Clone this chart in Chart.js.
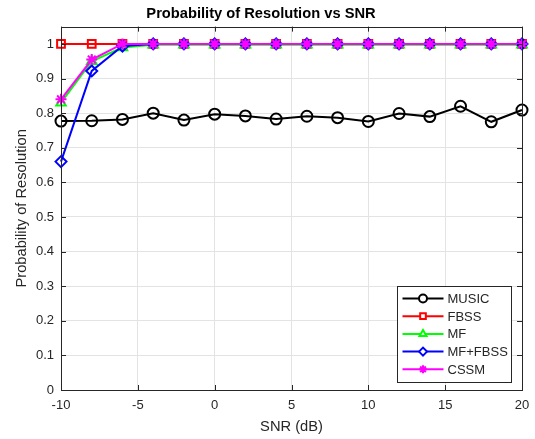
<!DOCTYPE html>
<html>
<head>
<meta charset="utf-8">
<script src="https://cdn.jsdelivr.net/npm/chart.js@4.4.1/dist/chart.umd.min.js"></script>
<style>
  body { margin: 0; background: #fff; }
  #wrap { width: 535px; height: 439px; }
</style>
</head>
<body>
<div id="wrap"><canvas id="c" width="535" height="439"></canvas></div>
<script>
// SNR sweep, probability of resolution per method
const snr = [-10, -8, -6, -4, -2, 0, 2, 4, 6, 8, 10, 12, 14, 16, 18, 20];
const music = [0.777, 0.778, 0.782, 0.800, 0.780, 0.797, 0.792, 0.783, 0.791, 0.787, 0.776, 0.799, 0.790, 0.820, 0.775, 0.809];
const fbss = [1, 1, 1, 1, 1, 1, 1, 1, 1, 1, 1, 1, 1, 1, 1, 1];
const mf = [0.83, 0.95, 0.99, 0.998, 0.998, 0.998, 0.998, 0.998, 0.998, 0.998, 0.998, 0.998, 0.998, 0.998, 0.998, 0.998];
const mfFbss = [0.66, 0.922, 0.994, 1, 1, 1, 1, 1, 1, 1, 1, 1, 1, 1, 1, 1];
const cssm = [0.84, 0.955, 1, 1, 1, 1, 1, 1, 1, 1, 1, 1, 1, 1, 1, 1];
const yTicks = [0, 0.1, 0.2, 0.3, 0.4, 0.5, 0.6, 0.7, 0.8, 0.9, 1];
const xTicks = [-10, -5, 0, 5, 10, 15, 20];

const FONT = '"Liberation Sans", Arial, sans-serif';
const TXT = '#262626';

function series(label, data, color, style, order) {
    return {
        label: label,
        data: data.map((v, i) => ({ x: snr[i], y: v })),
        borderColor: color,
        backgroundColor: 'rgba(0,0,0,0)',
        borderWidth: 2,
        pointStyle: style,
        pointRadius: 5.5,
        pointBorderWidth: 2,
        pointBackgroundColor: 'rgba(0,0,0,0)',
        pointBorderColor: color,
        tension: 0,
        clip: false,
        order: order
    };
}

// MATLAB-like box, inner ticks and legend inside the axes
const matlabBox = {
    id: 'matlabBox',
    afterDatasetsDraw(chart) {
        const ctx = chart.ctx;
        const a = chart.chartArea;
        const xs = chart.scales.x, ys = chart.scales.y;
        ctx.save();
        ctx.strokeStyle = TXT;
        ctx.lineWidth = 1;
        ctx.beginPath();
        xTicks.forEach(t => {
            const px = Math.round(xs.getPixelForValue(t)) + 0.5;
            ctx.moveTo(px, a.bottom); ctx.lineTo(px, a.bottom - 5);
            ctx.moveTo(px, a.top); ctx.lineTo(px, a.top + 5);
        });
        yTicks.forEach(t => {
            const py = Math.round(ys.getPixelForValue(t)) + 0.5;
            ctx.moveTo(a.left, py); ctx.lineTo(a.left + 5, py);
            ctx.moveTo(a.right, py); ctx.lineTo(a.right - 5, py);
        });
        ctx.stroke();
        ctx.strokeRect(Math.round(a.left) + 0.5, Math.round(a.top) + 0.5,
            Math.round(a.right - a.left), Math.round(a.bottom - a.top));

        // legend
        const bx = 397.5, by = 286.5, bw = 114, bh = 96;
        ctx.fillStyle = '#fff';
        ctx.fillRect(bx, by, bw, bh);
        ctx.strokeStyle = TXT;
        ctx.strokeRect(bx, by, bw, bh);
        ctx.textBaseline = 'middle';
        chart.data.datasets.forEach((ds, i) => {
            const y = by + 12 + i * 17.7;
            ctx.strokeStyle = ds.borderColor;
            ctx.lineWidth = 2;
            ctx.beginPath();
            ctx.moveTo(bx + 5, y); ctx.lineTo(bx + 46, y);
            ctx.stroke();
            ctx.fillStyle = '#fff';
            Chart.helpers.drawPoint(ctx, {
                pointStyle: ds.pointStyle, radius: 4, borderWidth: 2
            }, bx + 25.5, y);
            ctx.fillStyle = TXT;
            ctx.font = '13px ' + FONT;
            ctx.fillText(ds.label, bx + 50, y + 1);
        });
        ctx.restore();
    }
};

new Chart(document.getElementById('c'), {
    type: 'line',
    data: {
        datasets: [
            series('MUSIC', music, '#000000', 'circle', 5),
            series('FBSS', fbss, '#ff0000', 'rect', 4),
            series('MF', mf, '#00ff00', 'triangle', 3),
            series('MF+FBSS', mfFbss, '#0000ff', 'rectRot', 2),
            series('CSSM', cssm, '#ff00ff', 'star', 1)
        ]
    },
    options: {
        responsive: false,
        animation: false,
        layout: { padding: { left: 0, right: 13, top: 0, bottom: 0 } },
        plugins: {
            legend: { display: false },
            tooltip: { enabled: false },
            title: {
                display: true,
                text: 'Probability of Resolution vs SNR',
                color: '#000',
                font: { family: FONT, size: 14.7, weight: 'bold' },
                padding: { top: 5, bottom: 4 }
            }
        },
        scales: {
            x: {
                type: 'linear',
                min: -10,
                max: 20,
                afterBuildTicks: s => { s.ticks = xTicks.map(v => ({ value: v })); },
                afterFit: s => { s.height = 49; s.paddingLeft = 0; s.paddingRight = 0; },
                ticks: { color: TXT, font: { family: FONT, size: 13 }, padding: 8, maxRotation: 0 },
                grid: { color: '#e3e3e3', drawTicks: false },
                border: { display: false },
                title: {
                    display: true,
                    text: 'SNR (dB)',
                    color: TXT,
                    font: { family: FONT, size: 14.7 },
                    padding: { top: 3, bottom: 3 }
                }
            },
            y: {
                min: 0,
                max: 1.05,
                afterBuildTicks: s => { s.ticks = yTicks.map(v => ({ value: v })); },
                afterFit: s => { s.width = 61; },
                ticks: {
                    color: TXT,
                    font: { family: FONT, size: 13 },
                    padding: 7,
                    callback: v => String(Math.round(v * 10) / 10)
                },
                grid: { color: '#e3e3e3', drawTicks: false },
                border: { display: false },
                title: {
                    display: true,
                    text: 'Probability of Resolution',
                    color: TXT,
                    font: { family: FONT, size: 14.7 },
                    padding: { top: 13, bottom: 0 }
                }
            }
        }
    },
    plugins: [matlabBox]
});
</script>
</body>
</html>
